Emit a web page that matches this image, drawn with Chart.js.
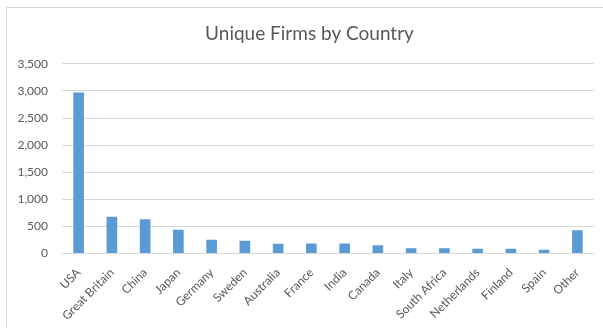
<!DOCTYPE html>
<html lang="en">
<head>
  <meta charset="UTF-8">
  <title>Unique Firms by Country</title>
  <script src="https://cdn.jsdelivr.net/npm/chart.js"></script>
  <style>
    html, body {
      margin: 0;
      padding: 0;
      background: #fff;
      overflow: hidden;
      width: 603px;
      height: 328px;
    }
    .card {
      position: absolute;
      left: 6px;
      top: 7px;
      width: 605px;
      height: 330px;
      border: 1px solid #d9d9d9;
      background: #fff;
    }
    #grafico {
      display: block;
    }
  </style>
</head>
<body>

  <div class="card">
    <canvas id="grafico" width="605" height="320"></canvas>
  </div>

  <script>
    const paises = ['USA', 'Great Britain', 'China', 'Japan', 'Germany', 'Sweden', 'Australia', 'France',
      'India', 'Canada', 'Italy', 'South Africa', 'Netherlands', 'Finland', 'Spain', 'Other'];
    const firmas = [2970, 680, 630, 440, 253, 235, 180, 185, 185, 153, 98, 98, 87, 87, 68, 431];
    const yTicks = [0, 500, 1000, 1500, 2000, 2500, 3000, 3500];

    const cinza = '#595959';
    const fonte = 'Lato, "Open Sans", sans-serif';

    const ctx = document.getElementById('grafico').getContext('2d');
    const chart = new Chart(ctx, {
      type: 'bar',
      data: {
        labels: paises,
        datasets: [{
          label: 'Unique Firms',
          data: firmas,
          backgroundColor: '#5b9bd5',
          barPercentage: 0.32,
          categoryPercentage: 1
        }]
      },
      options: {
        responsive: false,
        animation: false,
        layout: { padding: 0 },
        plugins: {
          legend: { display: false },
          tooltip: { enabled: false },
          title: {
            display: true,
            text: 'Unique Firms by Country',
            color: cinza,
            font: { family: fonte, size: 19, weight: 'normal' },
            padding: { top: 14, bottom: 19 }
          }
        },
        scales: {
          x: {
            grid: { display: false },
            border: { display: false },
            ticks: {
              color: cinza,
              font: { family: fonte, size: 12 },
              minRotation: 45,
              maxRotation: 45,
              padding: 4
            },
            afterFit: scale => { scale.height = 74.5; }
          },
          y: {
            min: 0,
            max: 3500,
            afterBuildTicks: scale => { scale.ticks = yTicks.map(v => ({ value: v })); },
            grid: { color: '#d9d9d9', drawTicks: false },
            border: { display: false },
            ticks: {
              color: cinza,
              font: { family: fonte, size: 12 },
              padding: 14,
              callback: v => v.toLocaleString('en-US')
            },
            afterFit: scale => { scale.width = 55; }
          },
          // empty right-hand axis: only keeps a blank margin so the title stays centred on the card
          margem: {
            position: 'right',
            grid: { display: false },
            border: { display: false },
            ticks: { display: false },
            afterFit: scale => { scale.width = 18; }
          }
        }
      }
    });
  </script>
</body>
</html>
